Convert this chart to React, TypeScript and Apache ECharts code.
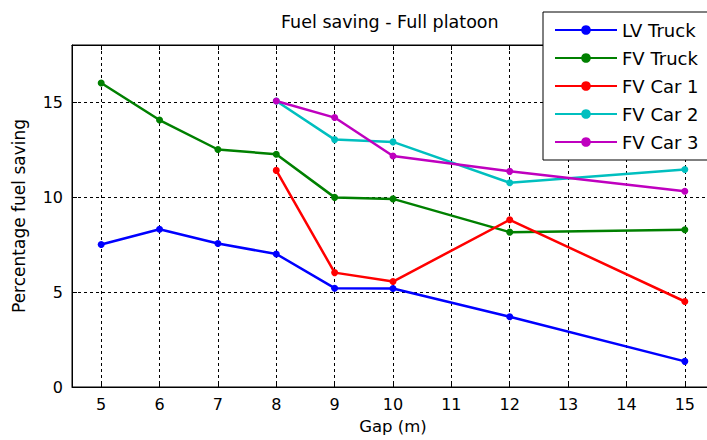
import React, { useEffect, useRef } from "react";
import * as echarts from "echarts";

const gaps = [5, 6, 7, 8, 9, 10, 12, 15];
const gapsCars = [8, 9, 10, 12, 15];
const xTicks = [5, 6, 7, 8, 9, 10, 11, 12, 13, 14, 15];
const yTicks = [0, 5, 10, 15];

const lvTruck = [7.5, 8.3, 7.55, 7.0, 5.2, 5.18, 3.7, 1.35];
const fvTruck = [16.0, 14.05, 12.5, 12.25, 9.98, 9.9, 8.15, 8.28];
const fvCar1 = [11.4, 6.02, 5.55, 8.8, 4.5];
const fvCar2 = [15.05, 13.02, 12.9, 10.75, 11.45];
const fvCar3 = [15.05, 14.18, 12.16, 11.35, 10.3];

const seriesNames = ["LV Truck", "FV Truck", "FV Car 1", "FV Car 2", "FV Car 3"];
const seriesColors = ["#0000ff", "#008000", "#ff0000", "#00bfbf", "#bf00bf"];

const FONT = "DejaVu Sans";

export default function App() {
  const ref = useRef<HTMLDivElement>(null);
  useEffect(() => {
    if (!ref.current) return;
    const chart = echarts.init(ref.current, null, { renderer: "svg" });
    const zip = (xs: number[], ys: number[]) => xs.map((x, i) => [x, ys[i]]);
    const datasets = [
      zip(gaps, lvTruck),
      zip(gaps, fvTruck),
      zip(gapsCars, fvCar1),
      zip(gapsCars, fvCar2),
      zip(gapsCars, fvCar3),
    ];
    const gridDash = { color: "#000", type: [3, 3], width: 1 };
    chart.setOption({
      animation: false,
      backgroundColor: "#ffffff",
      textStyle: { fontFamily: FONT },
      title: {
        text: "Fuel saving - Full platoon",
        left: 281,
        top: 13,
        padding: 0,
        textStyle: { fontFamily: FONT, fontSize: 17.5, fontWeight: "normal", color: "#000" },
      },
      legend: {
        left: 543,
        top: 12,
        orient: "vertical",
        backgroundColor: "#ffffff",
        borderColor: "#000",
        borderWidth: 1,
        padding: [9, 30, 9, 11],
        itemWidth: 62,
        itemHeight: 12,
        itemGap: 10,
        textStyle: { fontFamily: FONT, fontSize: 18, color: "#000" },
        data: seriesNames,
      },
      grid: {
        left: 72,
        top: 45,
        height: 342,
        width: 642,
        outerBoundsMode: "none",
        containLabel: false,
        show: true,
        borderColor: "#000",
        borderWidth: 1,
      },
      xAxis: [
        {
          type: "value",
          min: 4.5,
          max: 15.5,
          name: "Gap (m)",
          nameLocation: "middle",
          nameGap: 31,
          nameTextStyle: { fontFamily: FONT, fontSize: 16.5, color: "#000" },
          axisLine: { show: true, lineStyle: { color: "#000", width: 1 } },
          axisTick: { show: true, inside: true, length: 5, customValues: xTicks, lineStyle: { color: "#000" } },
          axisLabel: { customValues: xTicks, fontFamily: FONT, fontSize: 16, color: "#000", margin: 9 },
          splitLine: { show: true, lineStyle: gridDash },
        },
        {
          type: "value",
          position: "top",
          min: 4.5,
          max: 15.5,
          axisLine: { show: true, lineStyle: { color: "#000", width: 1 } },
          axisTick: { show: true, inside: true, length: 5, customValues: xTicks, lineStyle: { color: "#000" } },
          axisLabel: { show: false },
          splitLine: { show: false },
        },
      ],
      yAxis: {
        type: "value",
        min: 0,
        max: 18,
        name: "Percentage fuel saving",
        nameLocation: "middle",
        nameGap: 45,
        nameTextStyle: { fontFamily: FONT, fontSize: 17, color: "#000" },
        axisLine: { show: true, lineStyle: { color: "#000", width: 1 } },
        axisTick: { show: true, inside: true, length: 5, customValues: yTicks, lineStyle: { color: "#000" } },
        axisLabel: { customValues: yTicks, fontFamily: FONT, fontSize: 16, color: "#000", margin: 9 },
        splitLine: { show: true, lineStyle: gridDash },
      },
      series: datasets.map((d, i) => ({
        name: seriesNames[i],
        type: "line",
        xAxisIndex: 0,
        data: d,
        symbol: "circle",
        symbolSize: 7,
        color: seriesColors[i],
        lineStyle: { color: seriesColors[i], width: 2.5 },
        itemStyle: { color: seriesColors[i] },
      })),
    });
    return () => chart.dispose();
  }, []);
  return <div ref={ref} style={{ position: "fixed", left: 0, top: 0, width: 707, height: 440 }} />;
}
